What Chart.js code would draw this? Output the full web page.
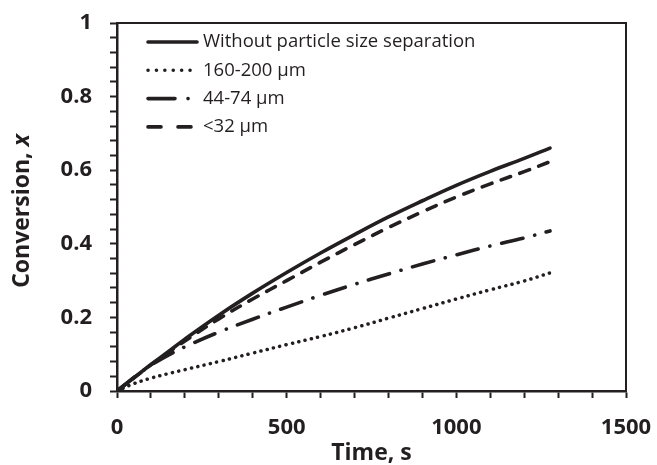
<!DOCTYPE html>
<html>
<head>
<meta charset="utf-8">
<script src="https://cdn.jsdelivr.net/npm/chart.js@4"></script>
<style>
    body { margin: 0; background: #fff; }
    #wrap { width: 657px; height: 465px; position: relative; }
</style>
</head>
<body>
<div id="wrap"><canvas id="conversionChart"></canvas></div>
<script>
    // time in seconds
    const timeValues = [0, 50, 100, 150, 200, 300, 400, 500, 600, 700, 800, 900, 1000, 1100, 1200, 1276];

    const withoutSeparation = [0, 0.036, 0.072, 0.106, 0.141, 0.206, 0.266, 0.322, 0.375, 0.425, 0.473, 0.517, 0.559, 0.597, 0.632, 0.66];
    const size160to200 = [0, 0.02, 0.035, 0.047, 0.058, 0.08, 0.103, 0.126, 0.148, 0.172, 0.198, 0.224, 0.25, 0.275, 0.299, 0.321];
    const size44to74 = [0, 0.037, 0.07, 0.097, 0.12, 0.16, 0.195, 0.228, 0.26, 0.29, 0.318, 0.345, 0.37, 0.394, 0.416, 0.435];
    const sizeBelow32 = [0, 0.036, 0.071, 0.104, 0.136, 0.196, 0.25, 0.3, 0.35, 0.398, 0.444, 0.487, 0.527, 0.563, 0.596, 0.623];

    const seriesLabels = ['Without particle size separation', '160-200 \u03bcm', '44-74 \u03bcm', '<32 \u03bcm'];
    const xTickLabels = [0, 500, 1000, 1500];
    const yTickLabels = [0, 0.2, 0.4, 0.6, 0.8, 1];

    const ink = '#231f20';
    const fontFamily = "'Open Sans', sans-serif";

    // dash patterns for the small legend samples (spaced a bit wider, like Excel)
    const legendDashes = [[], [0.1, 8.3], [27, 13, 0.1, 20], [13, 17]];

    function toPoints(values) {
        return values.map((v, i) => ({ x: timeValues[i], y: v }));
    }

    function lineSet(label, values, dash, width) {
        return {
            label: label,
            data: toPoints(values),
            borderColor: ink,
            borderWidth: width,
            borderDash: dash,
            borderCapStyle: 'round',
            pointRadius: 0,
            fill: false,
            tension: 0.4
        };
    }

    // frame on top and right, Excel style
    const frameBox = {
        id: 'frameBox',
        afterDraw(chart) {
            const a = chart.chartArea;
            const ctx = chart.ctx;
            ctx.save();
            ctx.strokeStyle = ink;
            ctx.lineWidth = 2;
            ctx.beginPath();
            ctx.moveTo(a.left, a.top);
            ctx.lineTo(a.right, a.top);
            ctx.lineTo(a.right, a.bottom);
            ctx.stroke();
            ctx.restore();
        }
    };

    // legend inside the plot, with line samples
    const insideLegend = {
        id: 'insideLegend',
        afterDraw(chart) {
            const ctx = chart.ctx;
            ctx.save();
            chart.data.datasets.forEach((ds, i) => {
                const y = 42 + i * 28.3;
                ctx.strokeStyle = ink;
                ctx.lineWidth = ds.borderWidth;
                ctx.lineCap = 'round';
                ctx.setLineDash(legendDashes[i]);
                ctx.beginPath();
                ctx.moveTo(148, y);
                ctx.lineTo(197, y);
                ctx.stroke();
                ctx.setLineDash([]);
                ctx.fillStyle = ink;
                ctx.font = '18.5px ' + fontFamily;
                ctx.textAlign = 'left';
                ctx.textBaseline = 'middle';
                ctx.fillText(ds.label, 203, y);
            });
            ctx.restore();
        }
    };

    // y title with italic x
    const yTitle = {
        id: 'yTitle',
        afterDraw(chart) {
            const ctx = chart.ctx;
            const main = 'Conversion, ';
            const italic = 'x';
            ctx.save();
            ctx.translate(22, 211);
            ctx.rotate(-Math.PI / 2);
            ctx.fillStyle = ink;
            ctx.textBaseline = 'middle';
            ctx.textAlign = 'left';
            ctx.font = 'bold 23px ' + fontFamily;
            const w1 = ctx.measureText(main).width;
            ctx.font = 'italic bold 23px ' + fontFamily;
            const w2 = ctx.measureText(italic).width;
            const start = -(w1 + w2) / 2;
            ctx.font = 'bold 23px ' + fontFamily;
            ctx.fillText(main, start, 0);
            ctx.font = 'italic bold 23px ' + fontFamily;
            ctx.fillText(italic, start + w1, 0);
            ctx.restore();
        }
    };

    const ctx = document.getElementById('conversionChart');

    new Chart(ctx, {
        type: 'line',
        data: {
            datasets: [
                lineSet(seriesLabels[0], withoutSeparation, [], 3.6),
                lineSet(seriesLabels[1], size160to200, [0.1, 6.4], 3.5),
                lineSet(seriesLabels[2], size44to74, [22, 12, 0.1, 12], 3.6),
                lineSet(seriesLabels[3], sizeBelow32, [10, 10], 3.6)
            ]
        },
        options: {
            responsive: true,
            maintainAspectRatio: false,
            animation: false,
            devicePixelRatio: 1,
            layout: { padding: { top: 23, right: 31, left: 0, bottom: 0 } },
            plugins: {
                legend: { display: false },
                tooltip: { enabled: false }
            },
            scales: {
                x: {
                    type: 'linear',
                    min: 0,
                    max: 1500,
                    border: { color: ink, width: 2.5 },
                    grid: {
                        drawOnChartArea: false,
                        drawTicks: true,
                        tickLength: 7,
                        tickWidth: 2,
                        tickColor: ink
                    },
                    ticks: {
                        stepSize: 100,
                        autoSkip: false,
                        maxRotation: 0,
                        padding: 17,
                        color: ink,
                        font: { family: fontFamily, size: 22, weight: 'bold' },
                        callback: (v) => xTickLabels.includes(Math.round(v)) ? String(Math.round(v)) : ''
                    },
                    title: {
                        display: true,
                        text: 'Time, s',
                        color: ink,
                        padding: { top: 0, bottom: -2 },
                        font: { family: fontFamily, size: 23, weight: 'bold' }
                    },
                    afterFit: (scale) => {
                        scale.height = 74;
                        scale.paddingLeft = 0;
                        scale.paddingRight = 0;
                    }
                },
                y: {
                    min: 0,
                    max: 1,
                    border: { color: ink, width: 2.5 },
                    grid: {
                        drawOnChartArea: false,
                        drawTicks: true,
                        tickLength: 7,
                        tickWidth: 2,
                        tickColor: ink
                    },
                    ticks: {
                        stepSize: 0.04,
                        autoSkip: false,
                        padding: 18,
                        color: ink,
                        font: { family: fontFamily, size: 22, weight: 'bold' },
                        callback: (v) => {
                            const r = Math.round(v * 100) / 100;
                            return yTickLabels.includes(r) ? String(r) : '';
                        }
                    },
                    afterFit: (scale) => {
                        scale.width = 117;
                        scale.paddingTop = 0;
                        scale.paddingBottom = 0;
                    }
                }
            }
        },
        plugins: [frameBox, insideLegend, yTitle]
    });
</script>
</body>
</html>
